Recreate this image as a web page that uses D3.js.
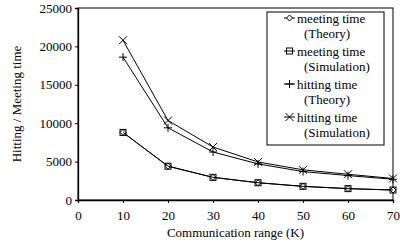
<!DOCTYPE html>
<html lang="en">
<head>
<meta charset="UTF-8">
<title>Hitting / Meeting time</title>
<script src="https://cdn.jsdelivr.net/npm/d3@7/dist/d3.min.js"></script>
<style>
  body { margin: 0; background: #fff; }
  svg text { font-family: "Liberation Serif", "Times New Roman", Times, serif !important; fill: #000; }
</style>
</head>
<body>
<div id="chart"></div>
<script>
// data
var ranges = [10, 20, 30, 40, 50, 60, 70];
var meetTheory = [8800, 4400, 2950, 2250, 1780, 1480, 1300];
var meetSim = [8800, 4400, 2950, 2250, 1780, 1480, 1300];
var hitTheory = [18600, 9400, 6250, 4700, 3700, 3180, 2700];
var hitSim = [20800, 10350, 6900, 4950, 3930, 3350, 2800];
var xTicks = [0, 10, 20, 30, 40, 50, 60, 70];
var yTicks = [0, 5000, 10000, 15000, 20000, 25000];

var series = [
  {name: ["meeting time", "(Theory)"], values: meetTheory, mark: "diamond"},
  {name: ["meeting time", "(Simulation)"], values: meetSim, mark: "square"},
  {name: ["hitting time", "(Theory)"], values: hitTheory, mark: "plus"},
  {name: ["hitting time", "(Simulation)"], values: hitSim, mark: "cross"}
];

var width = 400, height = 247;
var padL = 78, padR = 393, padT = 8, padB = 200;
var fs = 13;

var svg = d3.select("#chart").append("svg")
    .attr("width", width)
    .attr("height", height);

var x = d3.scaleLinear().domain([0, 70]).range([padL, padR]);
var y = d3.scaleLinear().domain([0, 25000]).range([padB, padT]);

// frame
svg.append("rect")
    .attr("x", padL).attr("y", padT)
    .attr("width", padR - padL).attr("height", padB - padT)
    .attr("fill", "none").attr("stroke", "#000").attr("stroke-width", 1);

// axes
var xAxis = svg.append("g")
    .attr("transform", "translate(0," + padB + ")")
    .call(d3.axisBottom(x).tickValues(xTicks).tickSize(3).tickPadding(8).tickFormat(d3.format("d")));
var yAxis = svg.append("g")
    .attr("transform", "translate(" + padL + ",0)")
    .call(d3.axisLeft(y).tickValues(yTicks).tickSize(3).tickPadding(3).tickFormat(d3.format("d")));
[xAxis, yAxis].forEach(function(a) {
  a.attr("font-family", null).attr("font-size", null);
  a.select(".domain").attr("stroke", "#000").attr("stroke-width", 1.3);
  a.selectAll(".tick line").attr("stroke", "#000");
  a.selectAll(".tick text").attr("font-size", fs);
});

svg.append("text")
    .attr("x", (padL + padR) / 2).attr("y", 237)
    .attr("text-anchor", "middle").attr("font-size", fs)
    .text("Communication range (K)");
svg.append("text")
    .attr("transform", "translate(21," + (padT + padB) / 2 + ") rotate(-90)")
    .attr("text-anchor", "middle").attr("font-size", fs)
    .text("Hitting / Meeting time");

function marker(g, type) {
  var s = 3;
  if (type === "diamond") {
    g.append("path").attr("d", "M0,-" + s + "L" + s + ",0L0," + s + "L-" + s + ",0Z")
      .attr("fill", "#fff").attr("stroke", "#000");
  } else if (type === "square") {
    g.append("rect").attr("x", -s).attr("y", -s).attr("width", 2 * s).attr("height", 2 * s)
      .attr("fill", "none").attr("stroke", "#000");
  } else if (type === "plus") {
    g.append("path").attr("d", "M-4,0H4M0,-4V4").attr("stroke", "#000");
  } else {
    g.append("path").attr("d", "M-4,-4L4,4M-4,4L4,-4").attr("stroke", "#000");
  }
}

var line = d3.line()
    .x(function(d) { return x(d[0]); })
    .y(function(d) { return y(d[1]); });

series.forEach(function(s) {
  var pts = ranges.map(function(r, i) { return [r, s.values[i]]; });
  svg.append("path").datum(pts)
      .attr("d", line).attr("fill", "none").attr("stroke", "#000").attr("stroke-width", 1);
  pts.forEach(function(p) {
    var g = svg.append("g").attr("transform", "translate(" + x(p[0]) + "," + y(p[1]) + ")");
    marker(g, s.mark);
  });
});

// legend
var lg = svg.append("g");
lg.append("rect").attr("x", 267).attr("y", 12).attr("width", 117).attr("height", 133)
    .attr("fill", "#fff").attr("stroke", "#000");
series.forEach(function(s, i) {
  var yy = 18 + i * 33;
  lg.append("line").attr("x1", 284).attr("x2", 295).attr("y1", yy).attr("y2", yy).attr("stroke", "#000");
  var g = lg.append("g").attr("transform", "translate(289.5," + yy + ")");
  marker(g, s.mark);
  s.name.forEach(function(t, j) {
    lg.append("text").attr("x", j === 0 ? 297 : 304).attr("y", yy + j * 15)
      .attr("dy", "0.35em").attr("font-size", fs).text(t);
  });
});
</script>
</body>
</html>
